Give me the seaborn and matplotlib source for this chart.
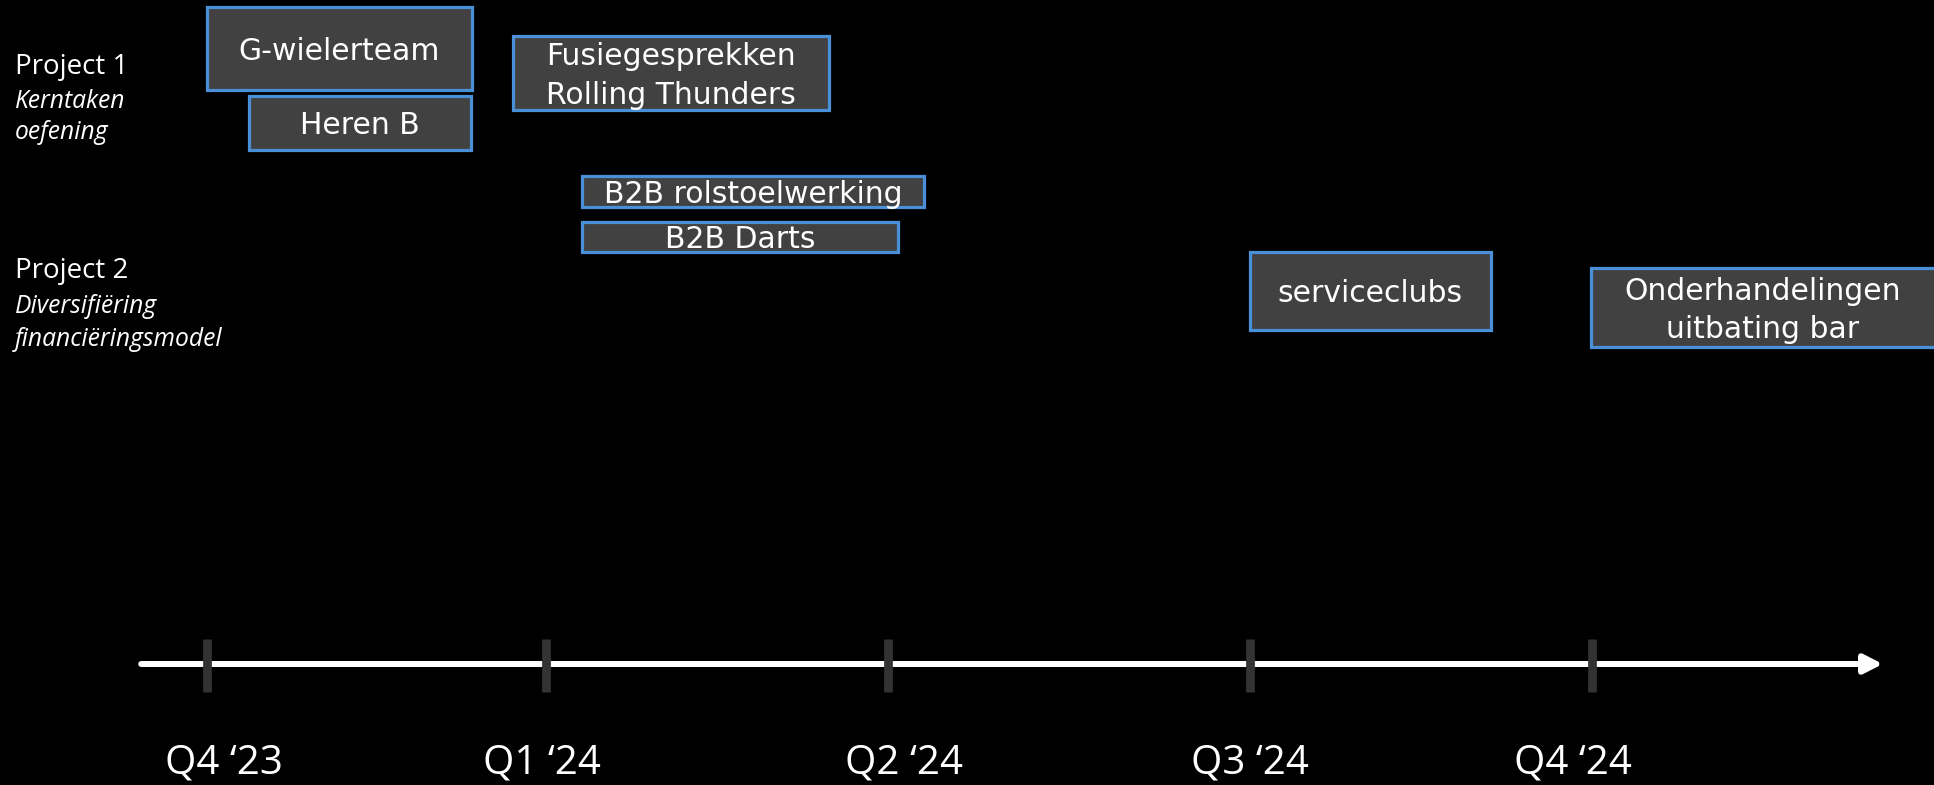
import matplotlib
matplotlib.use("Agg")
import matplotlib.pyplot as plt
import seaborn as sns
import pandas as pd

# ---------------- data ----------------
tasks = ["G-wielerteam", "Heren B", "Fusiegesprekken\nRolling Thunders",
         "B2B rolstoelwerking", "B2B Darts", "serviceclubs",
         "Onderhandelingen\nuitbating bar"]
task_start = [0.0, 0.121, 0.884, 1.083, 1.083, 3.012, 3.997]   # in quarters from Q4 '23
task_end = [0.765, 0.762, 1.796, 2.071, 1.996, 3.708, 5.05]
quarter_labels = ["Q4 \u201823", "Q1 \u201824", "Q2 \u201824", "Q3 \u201824", "Q4 \u201824"]
quarter_ticks = [0.0, 0.979, 1.967, 3.012, 4.0]
quarter_label_pos = [0.049, 0.968, 2.013, 3.012, 3.945]
project_titles = ["Project 1", "Project 2"]
project_subtitles = [["Kerntaken", "oefening"], ["Diversifi\u00ebring", "financi\u00ebringsmodel"]]

# ---------------- layout (pixel rows, top-down) ----------------
W, H = 1934, 785
box_y = [48.5, 123, 73, 191.5, 237, 291, 307.5]
box_h = [83, 54, 74, 31, 30, 78, 79]
title_base = [74, 278]
sub_base = [[108, 139], [313, 346]]
px_per_q = 346.25
x0_px = 207

df = pd.DataFrame({"task": tasks, "start": task_start, "end": task_end,
                   "y": box_y, "h": box_h})

sns.set_theme(style="dark", rc={"axes.facecolor": "black",
                                "figure.facecolor": "black",
                                "savefig.facecolor": "black"})

fig = plt.figure(figsize=(W / 100, H / 100), dpi=100)
ax = fig.add_axes([0, 0, 1, 1])
xmin = (0 - x0_px) / px_per_q
xmax = (W - x0_px) / px_per_q
ax.set_xlim(xmin, xmax)
ax.set_ylim(H, 0)
ax.axis("off")

# boxes
ax.barh(y=df["y"], width=df["end"] - df["start"], left=df["start"],
        height=df["h"], color="#414141", edgecolor="#4a90d9",
        linewidth=2.3, zorder=2)
for _, r in df.iterrows():
    cx = (r["start"] + min(r["end"], xmax)) / 2
    ax.text(cx, r["y"] + 3, r["task"], ha="center", va="center", color="white",
            fontsize=21.5, family="DejaVu Sans", linespacing=1.42, zorder=3)

# timeline arrow
ax.annotate("", xy=(4.84, 664), xytext=(-0.19, 664),
            arrowprops=dict(arrowstyle="-|>,head_length=0.55,head_width=0.28",
                            lw=4.3, color="white", mutation_scale=20,
                            shrinkA=0, shrinkB=0), zorder=4)
ax.vlines(quarter_ticks, 639, 692, colors="#333333", lw=6.3, zorder=5)
for pos, lab in zip(quarter_label_pos, quarter_labels):
    ax.text(pos, 774, lab, ha="center", va="baseline", color="white",
            fontsize=29, family="Open Sans", zorder=5)

# project labels
for t, subs, tb, sb in zip(project_titles, project_subtitles, title_base, sub_base):
    fig.text(15 / W, 1 - tb / H, t, ha="left", va="baseline", color="white",
             fontsize=20, family="Open Sans")
    for s, b in zip(subs, sb):
        fig.text(15 / W, 1 - b / H, s, ha="left", va="baseline", color="white",
                 fontsize=17.7, family="Open Sans", style="italic")

fig.savefig("out.png", dpi=100, facecolor="black")
